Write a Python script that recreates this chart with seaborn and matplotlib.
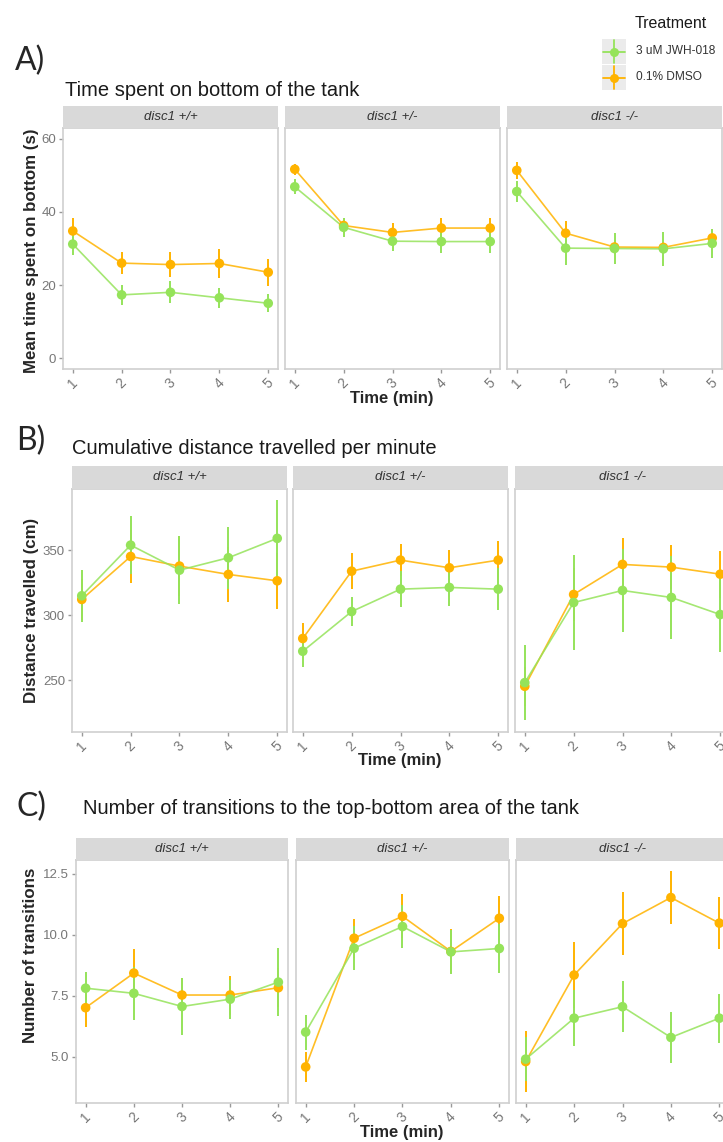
import matplotlib
matplotlib.use("Agg")
import matplotlib.pyplot as plt
from matplotlib.patches import Rectangle
import seaborn as sns
import numpy as np
import pandas as pd

W, H = 723, 1142

minutes = [1, 2, 3, 4, 5]
genotypes = ["disc1 +/+", "disc1 +/-", "disc1 -/-"]
treatments = ["3 uM JWH-018", "0.1% DMSO"]
palette = {"3 uM JWH-018": "#95E35A", "0.1% DMSO": "#FFB300"}

# A) time spent on bottom (s), one row per genotype
bottom_jwh = [[31.2, 17.3, 18.0, 16.5, 15.0],
              [46.9, 35.8, 32.0, 31.9, 31.9],
              [45.6, 30.1, 30.0, 29.9, 31.4]]
bottom_jwh_se = [[3.0, 2.7, 3.0, 2.7, 2.5],
                 [2.0, 2.6, 2.7, 3.0, 3.0],
                 [3.0, 4.5, 4.3, 4.6, 4.0]]
bottom_dmso = [[34.8, 26.0, 25.6, 25.9, 23.5],
               [51.7, 36.3, 34.4, 35.6, 35.6],
               [51.4, 34.2, 30.4, 30.3, 32.9]]
bottom_dmso_se = [[3.6, 3.0, 3.4, 4.0, 3.7],
                  [1.5, 2.0, 2.5, 2.8, 2.8],
                  [2.4, 3.3, 2.0, 1.5, 2.5]]

# B) distance travelled (cm)
dist_jwh = [[314.9, 353.8, 334.6, 344.1, 359.0],
            [272.3, 302.8, 320.0, 321.3, 320.0],
            [248.2, 309.7, 319.0, 313.6, 300.5]]
dist_jwh_se = [[20.0, 22.5, 25.9, 23.7, 29.7],
               [12.0, 11.0, 14.0, 14.6, 16.3],
               [29.0, 36.7, 32.0, 31.7, 28.6]]
dist_dmso = [[312.1, 345.1, 337.7, 331.3, 326.4],
             [282.1, 333.8, 342.3, 336.4, 342.3],
             [245.4, 315.9, 339.0, 336.9, 331.5]]
dist_dmso_se = [[16.0, 20.5, 23.0, 21.4, 21.3],
                [11.8, 13.6, 12.5, 13.6, 15.0],
                [15.0, 20.0, 20.0, 17.0, 18.0]]

# C) number of transitions
trans_jwh = [[7.81, 7.60, 7.06, 7.36, 8.06],
             [6.01, 9.45, 10.34, 9.30, 9.44],
             [4.90, 6.58, 7.05, 5.79, 6.58]]
trans_jwh_se = [[0.65, 1.10, 1.15, 0.80, 1.40],
                [0.72, 0.90, 0.90, 0.90, 1.00],
                [0.90, 1.15, 1.05, 1.04, 1.00]]
trans_dmso = [[7.01, 8.43, 7.53, 7.53, 7.83],
              [4.58, 9.86, 10.76, 9.32, 10.68],
              [4.80, 8.35, 10.46, 11.53, 10.48]]
trans_dmso_se = [[0.80, 1.00, 0.70, 0.80, 0.80],
                 [0.60, 0.80, 0.90, 0.90, 0.90],
                 [1.25, 1.35, 1.30, 1.07, 1.08]]


def long_frame(jwh, jwh_se, dmso, dmso_se):
    rows = []
    for g, geno in enumerate(genotypes):
        for t, (m, s) in zip(treatments, [(jwh, jwh_se), (dmso, dmso_se)]):
            for i, minute in enumerate(minutes):
                rows.append({"genotype": geno, "treatment": t, "minute": minute,
                             "mean": m[g][i], "se": s[g][i]})
    return pd.DataFrame(rows)


def px(x0, y0, x1, y1):
    return [x0 / W, 1 - y1 / H, (x1 - x0) / W, (y1 - y0) / H]


sns.set_theme(style="white")
plt.rcParams["font.family"] = ["Liberation Sans", "DejaVu Sans"]

fig = plt.figure(figsize=(W / 100, H / 100), dpi=100)

TICK_GREY = "#777777"
BORDER = "#CFCFCF"


def draw_row(df, xs, strip_top, plot_top, plot_bot, ylim, yticks, ytickfmt,
             ylabel, ylabel_pos, xlabel_pos, title, title_pos, letter, letter_pos):
    for g, (geno, (x0, x1)) in enumerate(zip(genotypes, xs)):
        ax = fig.add_axes(px(x0, plot_top, x1, plot_bot))
        sub = df[df.genotype == geno]
        for t in ["0.1% DMSO", "3 uM JWH-018"]:
            d = sub[sub.treatment == t]
            sns.lineplot(data=d, x="minute", y="mean", color=palette[t], lw=1.2,
                         alpha=0.85, ax=ax, errorbar=None, legend=False)
            ax.vlines(d["minute"], d["mean"] - d["se"], d["mean"] + d["se"],
                      color=palette[t], lw=1.4)
            sns.scatterplot(data=d, x="minute", y="mean", color=palette[t], s=48,
                            edgecolor="none", ax=ax, legend=False, zorder=4)
        ax.set_xlim(0.8, 5.2)
        ax.set_ylim(*ylim)
        ax.set_xticks(minutes)
        ax.set_xticklabels([str(m) for m in minutes], rotation=45, ha="center",
                           color=TICK_GREY, fontsize=10)
        ax.set_yticks(yticks)
        if g == 0:
            ax.set_yticklabels([ytickfmt.format(v) for v in yticks],
                               color=TICK_GREY, fontsize=9.5)
            ax.tick_params(axis="y", length=3, width=1, color="#999999", pad=2,
                           left=True)
        else:
            ax.set_yticklabels([])
            ax.tick_params(axis="y", left=False, length=0)
        ax.tick_params(axis="x", length=3, width=1, color="#999999", pad=2,
                       bottom=True)
        ax.set_xlabel("")
        ax.set_ylabel("")
        for sp in ax.spines.values():
            sp.set_color(BORDER)
            sp.set_linewidth(1.2)
        ax.set_facecolor("white")

        sax = fig.add_axes(px(x0, strip_top, x1, plot_top))
        sax.set_facecolor("#D9D9D9")
        sax.set_xticks([])
        sax.set_yticks([])
        for sp in sax.spines.values():
            sp.set_visible(False)
        sax.text(0.5, 0.5, geno, transform=sax.transAxes, ha="center", va="center",
                 fontsize=9.5, style="italic", color="#333333")

    fig.text(ylabel_pos[0] / W, 1 - ylabel_pos[1] / H, ylabel, rotation=90,
             ha="center", va="center", fontsize=12.2, fontweight="bold")
    fig.text(xlabel_pos[0] / W, 1 - xlabel_pos[1] / H, "Time (min)",
             ha="center", va="center", fontsize=12, fontweight="bold")
    fig.text(title_pos[0] / W, 1 - title_pos[1] / H, title,
             ha="left", va="center", fontsize=14.5, color="#1A1A1A")
    fig.text(letter_pos[0] / W, 1 - letter_pos[1] / H, letter,
             ha="left", va="center", fontsize=23, family=["Lato", "DejaVu Sans"])


draw_row(long_frame(bottom_jwh, bottom_jwh_se, bottom_dmso, bottom_dmso_se),
         [(63, 278), (285, 500), (507, 722)], 106, 128, 369,
         (-3, 63), [0, 20, 40, 60], "{:.0f}",
         "Mean time spent on bottom (s)", (32, 251), (392, 398),
         "Time spent on bottom of the tank", (65, 90), "A)", (15, 61))

draw_row(long_frame(dist_jwh, dist_jwh_se, dist_dmso, dist_dmso_se),
         [(72, 287), (293, 508), (515, 730)], 466, 489, 732,
         (210.3, 396.9), [250, 300, 350], "{:.0f}",
         "Distance travelled (cm)", (32, 610), (400, 760),
         "Cumulative distance travelled per minute", (72, 449), "B)", (16, 441))

draw_row(long_frame(trans_jwh, trans_jwh_se, trans_dmso, trans_dmso_se),
         [(76, 288), (296, 509), (516, 729)], 838, 860, 1103,
         (3.1, 13.07), [5.0, 7.5, 10.0, 12.5], "{:.1f}",
         "Number of transitions", (31, 955), (402, 1133),
         "Number of transitions to the top-bottom area of the tank", (83, 809),
         "C)", (16, 807))

# legend
lax = fig.add_axes([0, 0, 1, 1], zorder=10)
lax.set_xlim(0, W)
lax.set_ylim(H, 0)
lax.axis("off")
lax.patch.set_alpha(0)
lax.text(635, 24, "Treatment", ha="left", va="center", fontsize=11.5, color="#1A1A1A")
for i, t in enumerate(treatments):
    top = 39 + i * 26
    cy = top + 12.5
    lax.add_patch(Rectangle((602, top), 24, 25, facecolor="#EBEBEB", edgecolor="none"))
    lax.plot([603, 625], [cy, cy], color=palette[t], lw=1.3)
    lax.plot([614, 614], [top + 1, top + 24], color=palette[t], lw=1.3)
    lax.plot([614], [cy], marker="o", ms=6.5, color=palette[t], mec="none")
    lax.text(636, cy, t, ha="left", va="center", fontsize=8.6, color="#333333")

fig.savefig("out.png", dpi=100)
